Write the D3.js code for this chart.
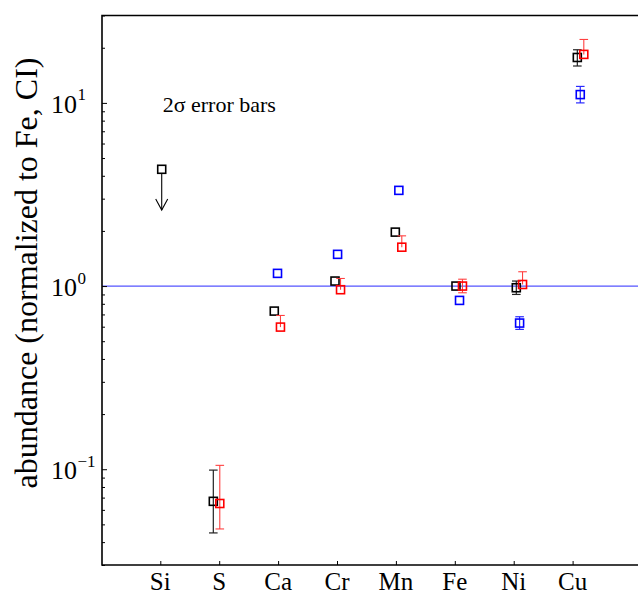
<!DOCTYPE html>
<html><head><meta charset="utf-8">
<script src="https://cdn.jsdelivr.net/npm/d3@7"></script>
<style>body{margin:0;background:#fff}svg{display:block}</style>
</head><body>
<script>
const elements = ["Si","S","Ca","Cr","Mn","Fe","Ni","Cu"];
const yTicks = [0.1, 1, 10];
const yTickExp = ["\u22121","0","1"];

// black series (all elements)
const blackX   = [1.024, 1.90, 2.935, 3.966, 4.99, 6.02, 7.044, 8.08];
const blackVal = [4.34, 0.0668, 0.730, 1.065, 1.97, 1.0, 0.979, 17.7];
const blackLo  = [null, 0.0449, null, null, null, null, 0.90, 15.9];
const blackHi  = [null, 0.0989, null, null, null, null, 1.065, 19.5];
const blackLimitTo = [2.6, null, null, null, null, null, null, null]; // upper limit arrow (Si)

// red series (S..Cu)
const redX   = [2.01, 3.04, 4.06, 5.10, 6.13, 7.15, 8.19];
const redVal = [0.065, 0.597, 0.955, 1.63, 1.0, 1.02, 18.4];
const redLo  = [0.0472, 0.597, 0.955, 1.63, 0.919, 1.02, 18.4];
const redHi  = [0.105, 0.691, 1.10, 1.88, 1.09, 1.197, 22.2];

// blue series (Ca..Cu)
const blueX   = [2.99, 4.01, 5.05, 6.08, 7.10, 8.13];
const blueVal = [1.173, 1.49, 3.33, 0.835, 0.628, 11.1];
const blueLo  = [null, null, null, null, 0.58, 10.0];
const blueHi  = [null, null, null, null, 0.68, 12.3];

const W = 638, H = 596;
const svg = d3.select("body").append("svg").attr("width", W).attr("height", H);
const FONT = "'Liberation Serif','Times New Roman',serif";

const x = d3.scaleLinear().domain([0, 9.1]).range([101.4, 637.4]);
const y = d3.scaleLog().domain([0.03, 30]).range([565, 15.5]);
const L = 102, R = 638, T = 15.5, B = 565;

// reference line at 1
svg.append("line").attr("x1", L).attr("x2", R).attr("y1", y(1)).attr("y2", y(1))
  .attr("stroke", "#5555ff").attr("stroke-width", 1.3);

// axes
const yAxis = d3.axisLeft(y).tickValues(
    d3.range(-2, 2).flatMap(e => d3.range(1, 10).map(m => m * Math.pow(10, e))).filter(v => v >= 0.03 && v <= 30))
  .tickSize(-3).tickFormat("");
const gy = svg.append("g").attr("transform", `translate(${L},0)`).call(yAxis);
gy.selectAll(".tick line").attr("stroke", "#000").attr("stroke-width", 1)
  .attr("x2", d => yTicks.includes(+d.toPrecision(3)) ? 5 : 3);
gy.select(".domain").remove();

const xAxis = d3.axisBottom(x).tickValues(d3.range(1, 9)).tickSize(-4).tickFormat("");
const gx = svg.append("g").attr("transform", `translate(0,${B})`).call(xAxis);
gx.select(".domain").remove();
gx.selectAll(".tick line").attr("stroke", "#000");

// frame (left, top, bottom)
svg.append("path").attr("d", `M${R},${T}H${L}V${B}H${R}`)
  .attr("fill", "none").attr("stroke", "#000").attr("stroke-width", 1.6);

// y tick labels
yTicks.forEach((v, i) => {
  svg.append("text").attr("font-family", FONT).attr("fill", "#000")
   .attr("x", 77).attr("y", y(v) + 10).attr("text-anchor", "end")
   .attr("font-size", 26).text("10");
  svg.append("text").attr("font-family", FONT).attr("font-size", 17).attr("fill", "#000")
   .attr("x", 77.5).attr("y", y(v) - 2.5).text(yTickExp[i]);
});

// x tick labels
svg.selectAll("text.xl").data(elements).enter().append("text")
  .attr("class", "xl").attr("x", (d, i) => x(i + 1)).attr("y", 590)
  .attr("text-anchor", "middle").attr("font-family", FONT).attr("font-size", 25)
  .attr("fill", "#000").text(d => d);

// y label
svg.append("text").attr("transform", `translate(37,${273}) rotate(-90)`)
  .attr("text-anchor", "middle").attr("font-family", FONT).attr("font-size", 32)
  .attr("fill", "#000").text("abundance (normalized to Fe, CI)");

// annotation
svg.append("text").attr("x", x(1.04)).attr("y", y(8.97)).attr("font-family", FONT)
  .attr("font-size", 22).attr("fill", "#000").text("2\u03c3 error bars");

function drawSeries(xs, vals, los, his, color, ebColor, ebW) {
  const g = svg.append("g");
  const cap = 4.3;
  xs.forEach((xv, i) => {
    const v = vals[i], lo = los[i], hi = his[i];
    const cx = x(xv);
    if (lo != null && hi != null) {
      g.append("line").attr("x1", cx).attr("x2", cx).attr("y1", y(lo)).attr("y2", y(hi))
        .attr("stroke", ebColor).attr("stroke-width", ebW);
      if (hi > v) g.append("line").attr("x1", cx - cap).attr("x2", cx + cap)
        .attr("y1", y(hi)).attr("y2", y(hi)).attr("stroke", ebColor).attr("stroke-width", ebW);
      if (lo < v) g.append("line").attr("x1", cx - cap).attr("x2", cx + cap)
        .attr("y1", y(lo)).attr("y2", y(lo)).attr("stroke", ebColor).attr("stroke-width", ebW);
    }
    const s = 8;
    g.append("rect").attr("x", cx - s / 2).attr("y", y(v) - s / 2).attr("width", s).attr("height", s)
      .attr("fill", "none").attr("stroke", color).attr("stroke-width", 1.6);
  });
  return g;
}

drawSeries(blackX, blackVal, blackLo, blackHi, "#000", "#222", 1.2);
drawSeries(redX, redVal, redLo, redHi, "#ff0000", "#ff4040", 1.1);
drawSeries(blueX, blueVal, blueLo, blueHi, "#0000ff", "#2a2aff", 1.2);

// upper-limit arrows
blackX.forEach((xv, i) => {
  const to = blackLimitTo[i];
  if (to == null) return;
  const cx = x(xv), y0 = y(blackVal[i]) + 4, y1 = y(to);
  svg.append("line").attr("x1", cx).attr("x2", cx).attr("y1", y0).attr("y2", y1)
    .attr("stroke", "#000").attr("stroke-width", 1.1);
  svg.append("path").attr("d", `M${cx - 6},${y1 - 11}L${cx},${y1}L${cx + 6},${y1 - 11}`)
    .attr("fill", "none").attr("stroke", "#000").attr("stroke-width", 1.1);
});
</script>
</body></html>
